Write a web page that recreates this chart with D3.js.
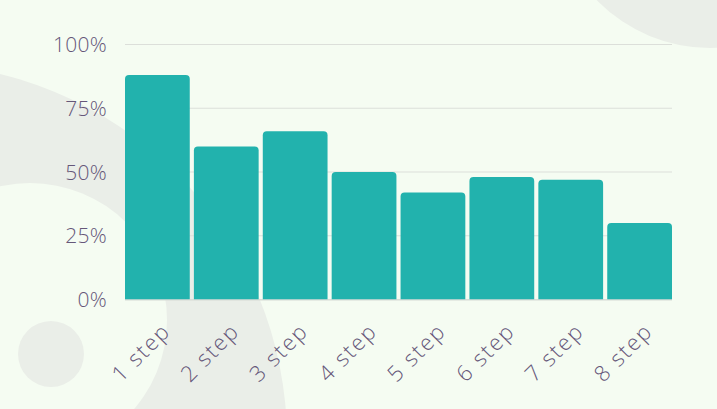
<!DOCTYPE html>
<html><head><meta charset="utf-8">
<script src="https://cdn.jsdelivr.net/npm/d3@7"></script>
<style>
html,body{margin:0;padding:0;background:#f5fcf2;}
svg{display:block;}
</style></head><body>
<svg id="c" width="717" height="409"></svg>
<script>
const categories = ["1 step","2 step","3 step","4 step","5 step","6 step","7 step","8 step"];
const values = [88, 60, 66, 50, 42, 48, 47, 30];
const yTicks = [0, 25, 50, 75, 100];

const W = 717, H = 409;
const svg = d3.select("#c");
const font = "'Open Sans', Lato, sans-serif";
const textColor = "#655779";

svg.append("rect").attr("width", W).attr("height", H).attr("fill", "#f5fcf2");
// decorative circles
const deco = svg.append("g");
deco.append("circle").attr("cx", -90).attr("cy", 440).attr("r", 377).attr("fill", "#eaeee8");
deco.append("circle").attr("cx", 30).attr("cy", 320).attr("r", 137).attr("fill", "#f5fcf2");
deco.append("circle").attr("cx", 51).attr("cy", 354).attr("r", 33).attr("fill", "#eaeee8");
deco.append("circle").attr("cx", 710).attr("cy", -110).attr("r", 158).attr("fill", "#eaeee8");

const x = d3.scaleBand().domain(categories).range([125, 672]).paddingInner(0.06).paddingOuter(0);
const y = d3.scaleLinear().domain([0, 100]).range([299.5, 44.5]);

// grid
svg.append("g").selectAll("line").data(yTicks).join("line")
  .attr("x1", 125).attr("x2", 672)
  .attr("y1", d => y(d)).attr("y2", d => y(d))
  .attr("stroke", "#dcdfda").attr("stroke-width", 1);

// y labels
svg.append("g").selectAll("text").data(yTicks).join("text")
  .attr("x", 107).attr("y", d => y(d)).attr("dy", "0.36em")
  .attr("text-anchor", "end")
  .attr("font-family", font).attr("font-weight", 300).attr("font-size", 21)
  .attr("letter-spacing", 0.3)
  .attr("fill", textColor)
  .text(d => d + "%");

// bars with rounded top corners
const r = 4;
function barPath(x0, w, yTop, yBot) {
  return `M${x0},${yBot}V${yTop + r}Q${x0},${yTop} ${x0 + r},${yTop}H${x0 + w - r}Q${x0 + w},${yTop} ${x0 + w},${yTop + r}V${yBot}Z`;
}
svg.append("g").selectAll("path").data(values).join("path")
  .attr("d", (d, i) => barPath(x(categories[i]), x.bandwidth(), y(d), y(0)))
  .attr("fill", "#22b2ad");

// baseline
svg.append("line").attr("x1", 125).attr("x2", 672).attr("y1", 300).attr("y2", 300)
  .attr("stroke", "#d6d9d4").attr("stroke-width", 1);

// x labels
svg.append("g").selectAll("text").data(categories).join("text")
  .attr("transform", d => `translate(${x(d) + x.bandwidth() / 2 + 9},${327}) rotate(-45)`)
  .attr("text-anchor", "end").attr("dy", "0.35em")
  .attr("font-family", font).attr("font-weight", 300).attr("font-size", 22)
  .attr("letter-spacing", 1.8)
  .attr("fill", textColor)
  .text(d => d);
</script>
</body></html>
